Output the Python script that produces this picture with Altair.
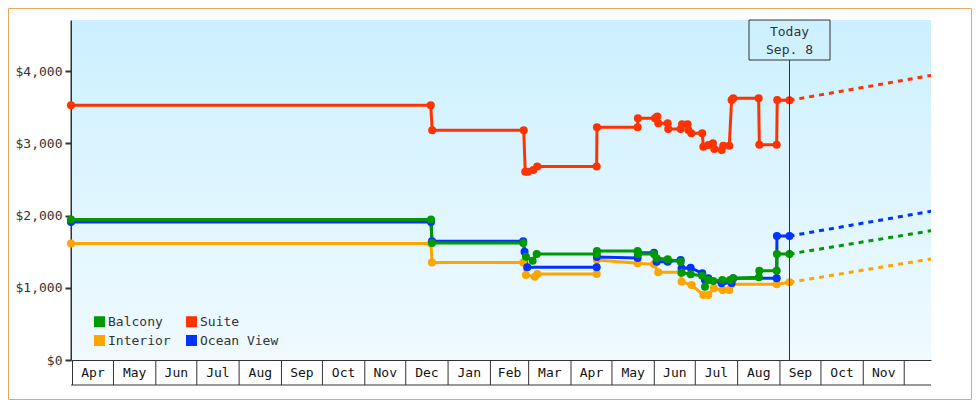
import altair as alt
import pandas as pd

START = pd.Timestamp("2016-04-01")
FONT = "DejaVu Sans Mono"
INK = "#333333"

SERIES_ORDER = ["Suite", "Interior", "Ocean View", "Balcony"]
LEGEND_ORDER = ["Balcony", "Interior", "Suite", "Ocean View"]
LEGEND_COLORS = ["#009900", "#ffa500", "#ff3300", "#0033ff"]

suite_days = [-1.1, 262.3, 263.4, 330.4, 331.5, 333.5, 337.4, 340.3, 383.8, 384, 413.8, 414, 426.5, 428.2, 428.9,
              435.8, 436.2, 445.3, 446.3, 450.4, 450.9, 453.1, 461.1, 461.9, 465.5, 468.9, 469.9, 475.3, 476.5,
              480.9, 482.6, 483.8, 502.4, 502.9, 515.6, 516, 525]
suite_vals = [3525, 3525, 3179, 3179, 2606, 2606, 2630, 2678, 2678, 3222, 3222, 3345, 3345, 3370, 3276,
              3276, 3197, 3197, 3262, 3262, 3183, 3138, 3138, 2952, 2976, 2999, 2920, 2906, 2966,
              2966, 3598, 3622, 3622, 2980, 2980, 3598, 3594]

interior_days = [-1.1, 262.5, 263.2, 330, 332, 338.5, 340.3, 383.8, 384, 413.8, 425.8, 428.9, 445.3, 446, 453.3,
                 461.9, 465.5, 469.7, 476, 480.9, 482.6, 515.6, 525]
interior_vals = [1612, 1612, 1349, 1349, 1176, 1153, 1190, 1190, 1384, 1338, 1324, 1214, 1214, 1084, 1038,
                 900, 900, 992, 969, 969, 1048, 1048, 1075]

ocean_days = [-1.1, 262.5, 263.2, 330, 331, 333, 383.8, 384, 413.8, 414, 425.8, 427.7, 435.8, 445.3, 446, 452.6,
              461.1, 463.1, 465.5, 475.3, 482.6, 483.8, 515.6, 515.8, 525]
ocean_vals = [1910, 1910, 1643, 1643, 1499, 1283, 1283, 1426, 1412, 1485, 1485, 1360, 1360, 1384, 1269, 1277,
              1200, 1107, 1131, 1062, 1066, 1131, 1131, 1716, 1716]

balcony_days = [-1.1, 262.5, 263.2, 330, 332, 336.9, 339.9, 383.8, 384, 413.8, 414, 425.8, 427.7, 435.8, 445.3, 446,
                452.6, 461.1, 463.1, 465.5, 469.2, 475.8, 481.4, 483.8, 502.6, 502.9, 515.6, 515.8, 525]
balcony_vals = [1945, 1945, 1619, 1619, 1430, 1374, 1467, 1467, 1508, 1508, 1467, 1467, 1407, 1394, 1360, 1208,
                1186, 1167, 1014, 1107, 1093, 1107, 1107, 1131, 1145, 1236, 1236, 1467, 1467]

forecast_end_day = 629
forecast_ends = {"Suite": 3940, "Interior": 1400, "Ocean View": 2060, "Balcony": 1790}
today_vals = {"Suite": 3594, "Interior": 1075, "Ocean View": 1716, "Balcony": 1467}

month_labels = ["Apr", "May", "Jun", "Jul", "Aug", "Sep", "Oct", "Nov", "Dec", "Jan", "Feb", "Mar",
                "Apr", "May", "Jun", "Jul", "Aug", "Sep", "Oct", "Nov"]
y_ticks = [0, 1000, 2000, 3000, 4000]
today_lines = ["Today", "Sep. 8"]


def iso(ts):
    return ts.strftime("%Y-%m-%dT%H:%M:00Z")


def day(d):
    return iso(START + pd.to_timedelta(d, unit="D"))


rows = []
for name, days, vals in [("Suite", suite_days, suite_vals), ("Interior", interior_days, interior_vals),
                         ("Ocean View", ocean_days, ocean_vals), ("Balcony", balcony_days, balcony_vals)]:
    rows += [{"date": day(d), "price": v, "series": name} for d, v in zip(days, vals)]
df = pd.DataFrame(rows)

fc = []
for name in SERIES_ORDER:
    fc.append({"date": day(525), "price": today_vals[name], "series": name})
    fc.append({"date": day(forecast_end_day), "price": forecast_ends[name], "series": name})
fc = pd.DataFrame(fc)

starts = pd.date_range("2016-04-01", periods=21, freq="MS")
bounds = pd.DataFrame({"date": [iso(s) for s in starts]})
months = pd.DataFrame({
    "date": [iso(a + (b - a) / 2) for a, b in zip(starts[:-1], starts[1:])],
    "label": month_labels,
})
today = pd.DataFrame({"date": [day(525)]})

xscale = alt.Scale(type="utc", domain=[day(-1.1), day(628.6)])
yscale = alt.Scale(domain=[0, 4706], nice=False, zero=False)
X = alt.X("date:T", scale=xscale, title=None,
          axis=alt.Axis(labels=False, ticks=False, grid=False, domainColor=INK, domainWidth=1))
Y = alt.Y("price:Q", scale=yscale, title=None,
          axis=alt.Axis(values=y_ticks, format="$,.0f", grid=False, domainColor=INK, domainWidth=2,
                        tickColor=INK, tickWidth=2, tickSize=6, labelFont=FONT, labelFontSize=13,
                        labelColor=INK, labelPadding=3))
COLOR = alt.Color("series:N", scale=alt.Scale(domain=LEGEND_ORDER, range=LEGEND_COLORS),
                  legend=alt.Legend(title=None, orient="none", legendX=22, legendY=295, columns=2,
                                    symbolType="square", symbolSize=121, symbolStrokeWidth=0,
                                    labelFont=FONT, labelFontSize=13, labelColor=INK, labelOffset=2,
                                    columnPadding=14, rowPadding=5, padding=0))

W, H = 860, 340
bg = alt.Chart(today).mark_rect(
    fill=alt.Gradient(gradient="linear", x1=0, x2=0, y1=0, y2=1,
                      stops=[alt.GradientStop(color="#ccf0ff", offset=0),
                             alt.GradientStop(color="#f0faff", offset=1)])
).encode(x=alt.value(1), x2=alt.value(W), y=alt.value(0), y2=alt.value(H))

lines = alt.Chart(df).mark_line(strokeWidth=3, interpolate="linear", clip=False).encode(
    x=X, y=Y, color=COLOR, detail="series:N", order=alt.Order("date:T"))
points = alt.Chart(df).mark_point(filled=True, shape="circle", size=65, opacity=1, strokeWidth=0).encode(
    x=X, y=Y, color=COLOR)
dashes = alt.Chart(fc).mark_line(strokeWidth=3, strokeDash=[5, 5], clip=True).encode(
    x=X, y=Y, color=COLOR, detail="series:N")

sep = alt.Chart(bounds).mark_rule(color=INK, strokeWidth=1).encode(
    x=alt.X("date:T", scale=xscale), y=alt.value(H), y2=alt.value(H + 25))
bottom = alt.Chart(today).mark_rule(color=INK, strokeWidth=1).encode(
    x=alt.value(0), x2=alt.value(W), y=alt.value(H + 25))
month_text = alt.Chart(months).mark_text(font=FONT, fontSize=13, color="#111111", baseline="middle").encode(
    x=alt.X("date:T", scale=xscale), y=alt.value(H + 13), text="label:N")

today_rule = alt.Chart(today).mark_rule(color=INK, strokeWidth=1).encode(
    x=alt.X("date:T", scale=xscale), y=alt.value(40), y2=alt.value(H))
today_box = alt.Chart(today).mark_rect(width=81, height=40, fillOpacity=0, stroke=INK, strokeWidth=1).encode(
    x=alt.X("date:T", scale=xscale), y=alt.value(20))
today_lbls = [
    alt.Chart(pd.DataFrame({"date": [day(525)], "line": [t]})).mark_text(
        font=FONT, fontSize=13, color=INK, baseline="middle").encode(
        x=alt.X("date:T", scale=xscale), y=alt.value(py), text="line:N")
    for t, py in zip(today_lines, [12, 30])
]

frame_color = "#eba960"
L, T, R, B = -62.5, -11.5, 900.5, 379.5
frame = [
    alt.Chart(today).mark_rule(color=frame_color, strokeWidth=1).encode(
        x=alt.value(a), x2=alt.value(b), y=alt.value(c), y2=alt.value(d))
    for a, b, c, d in [(L, R, T, T), (L, R, B, B), (L, L, T, B), (R, R, T, B)]
]

chart = alt.layer(
    bg, lines, dashes, points, sep, bottom, month_text, today_rule, today_box, *today_lbls, *frame
).properties(
    width=W, height=H,
    autosize=alt.AutoSizeParams(type="none"),
    padding={"left": 63, "top": 12, "right": 41, "bottom": 40},
    background="white",
).configure_view(stroke=None)

chart.save("out.html", embed_options={"renderer": "svg", "actions": False})
